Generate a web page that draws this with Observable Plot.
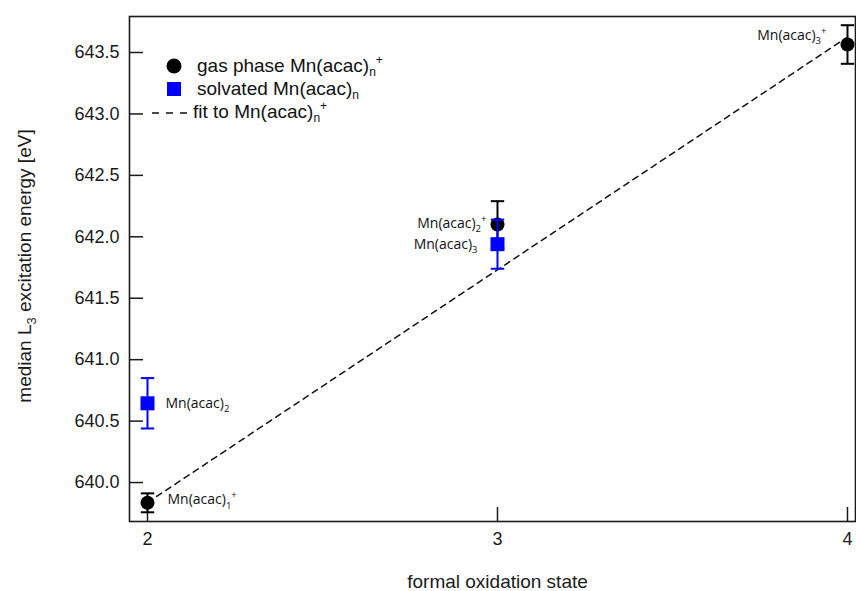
<!DOCTYPE html>
<html>
<head>
<meta charset="utf-8">
<script src="https://cdn.jsdelivr.net/npm/d3@7"></script>
<script src="https://cdn.jsdelivr.net/npm/@observablehq/plot@0.6"></script>
<style>
  html, body { margin: 0; padding: 0; background: white; }
  #wrap { position: relative; width: 856px; height: 591px; }
  #legend { position: absolute; left: 0; top: 0; width: 0; height: 0;
            font-family: "Liberation Sans", Arial, sans-serif; font-size: 19px; color: #111; }
  #legend .lbl { position: absolute; white-space: nowrap; line-height: 22px; }
  #legend sub { font-size: 12px; vertical-align: -4px; line-height: 0; }
  #legend sup { font-size: 12px; vertical-align: 8px; line-height: 0; }
  #legend svg { position: absolute; overflow: visible; }
</style>
</head>
<body>
<div id="wrap"><div id="legend"></div></div>
<script>
// ---------------- data ----------------
const gasStates   = [2, 3, 4];
const gasEnergy   = [639.835, 642.10, 643.565];
const gasError    = [0.077, 0.19, 0.157];

const solvStates  = [2, 3];
const solvEnergy  = [640.645, 641.94];
const solvError   = [0.205, 0.20];

const fitStates   = [2, 4];
const fitEnergy   = [639.837, 643.626];

const xTicks = [2, 3, 4];
const yTicks = [640.0, 640.5, 641.0, 641.5, 642.0, 642.5, 643.0, 643.5];

const labelTexts    = ["Mn(acac)_1^+", "Mn(acac)_2", "Mn(acac)_2^+", "Mn(acac)_3", "Mn(acac)_3^+"];
const labelStates   = [2, 2, 3, 3, 4];
const labelEnergies = [639.835, 640.645, 642.10, 641.94, 643.565];

const legendTexts = ["gas phase Mn(acac)<sub>n</sub><sup>+</sup>", "solvated Mn(acac)<sub>n</sub>", "fit to Mn(acac)<sub>n</sub><sup>+</sup>"];
const xLabel = "formal oxidation state";
const yLabel = "median L_3 excitation energy [eV]";

// ---------------- layout / style ----------------
const W = 856, H = 591;
const mL = 129, mR = 1, mT = 16, mB = 70;
const innerW = W - mL - mR, innerH = H - mT - mB;
const labelLayout = [
  {anchor: "start", dx: 20, dy: -3},
  {anchor: "start", dx: 18, dy: 0},
  {anchor: "end",   dx: -11, dy: -1},
  {anchor: "end",   dx: -20, dy: 0},
  {anchor: "end",   dx: -21, dy: -9}
];
const BLUE = "#0000ff";
const AX = "#1a1a1a";

const gas  = gasStates.map((s, i) => ({s, e: gasEnergy[i], err: gasError[i]}));
const solv = solvStates.map((s, i) => ({s, e: solvEnergy[i], err: solvError[i]}));
const fit  = fitStates.map((s, i) => ({s, e: fitEnergy[i]}));
const labels = labelTexts.map((t, i) => ({t, s: labelStates[i], e: labelEnergies[i]}));

const cap = {draw(ctx, size) { const r = Math.sqrt(size / Math.PI); ctx.moveTo(-r, 0); ctx.lineTo(r, 0); }};

function errorMarks(data, color) {
  return [
    Plot.ruleX(data, {x: "s", y1: d => d.e - d.err, y2: d => d.e + d.err, stroke: color, strokeWidth: 2}),
    Plot.dot(data, {x: "s", y: d => d.e + d.err, symbol: cap, r: 6.7, stroke: color, strokeWidth: 2}),
    Plot.dot(data, {x: "s", y: d => d.e - d.err, symbol: cap, r: 6.7, stroke: color, strokeWidth: 2})
  ];
}

const chart = Plot.plot({
  width: W, height: H,
  marginLeft: mL, marginRight: mR, marginTop: mT, marginBottom: mB,
  x: {domain: [1.9486, 4.0229]},
  y: {domain: [639.683, 643.793]},
  style: {fontFamily: "'Liberation Sans', Arial, sans-serif", fontSize: "18px", color: AX, background: "white"},
  marks: [
    Plot.tickY(yTicks, {y: d => d, insetRight: innerW - 14, stroke: AX, strokeWidth: 1.5}),
    Plot.tickX(xTicks, {x: d => d, insetTop: innerH - 14, stroke: AX, strokeWidth: 1.5}),
    Plot.axisY({ticks: yTicks, tickSize: 0, tickPadding: 10, tickFormat: d => d.toFixed(1), label: null, fontSize: 18}),
    Plot.axisX({ticks: xTicks, tickSize: 0, tickPadding: 11, tickFormat: d => String(d), label: null, fontSize: 18}),
    Plot.text([yLabel], {text: d => d, frameAnchor: "left", textAnchor: "middle", lineAnchor: "middle", rotate: -90, dx: -105, dy: -3, fontSize: 19, fill: AX}),
    Plot.text([xLabel], {text: d => d, frameAnchor: "bottom", textAnchor: "middle", lineAnchor: "middle", dx: 5, dy: 60, fontSize: 19, fill: AX}),
    Plot.line(fit, {x: "s", y: "e", stroke: "#111", strokeWidth: 1.5, strokeDasharray: "6,5"}),
    ...errorMarks(gas, "#000"),
    Plot.dot(gas, {x: "s", y: "e", r: 7, fill: "#000"}),
    ...errorMarks(solv, BLUE),
    Plot.dot(solv, {x: "s", y: "e", symbol: "square", r: 7.9, fill: BLUE}),
    ...labels.map((d, i) => Plot.text([d], {
      x: "s", y: "e", text: "t", textAnchor: labelLayout[i].anchor,
      dx: labelLayout[i].dx, dy: labelLayout[i].dy,
      fontFamily: "'Open Sans', 'Noto Sans', sans-serif", fontSize: 14, fill: "#111"
    })),
    Plot.frame({stroke: AX, strokeWidth: 1.6})
  ]
});

const wrap = document.getElementById("wrap");
wrap.insertBefore(chart, wrap.firstChild);

// rich text: _x subscript, ^x superscript
const NS = "http://www.w3.org/2000/svg";
function richify(el) {
  const s = el.textContent;
  if (!/[_^]/.test(s)) return;
  const fs = parseFloat(getComputedStyle(el).fontSize) || 13;
  const segs = []; let buf = "";
  for (let i = 0; i < s.length; i++) {
    const c = s[i];
    if ((c === "_" || c === "^") && i + 1 < s.length) {
      if (buf) { segs.push({t: buf, k: 0}); buf = ""; }
      segs.push({t: s[i + 1], k: c === "_" ? 1 : -1});
      i++;
    } else buf += c;
  }
  if (buf) segs.push({t: buf, k: 0});
  el.textContent = "";
  let cur = 0;
  for (const sg of segs) {
    const ts = document.createElementNS(NS, "tspan");
    const off = sg.k === 1 ? 0.3 * fs : sg.k === -1 ? -0.42 * fs : 0;
    if (off - cur !== 0) ts.setAttribute("dy", (off - cur).toFixed(2));
    cur = off;
    if (sg.k) ts.setAttribute("font-size", (0.68 * fs).toFixed(1));
    ts.textContent = sg.t;
    el.appendChild(ts);
  }
}
chart.querySelectorAll("text").forEach(richify);

// legend overlay
const legend = document.getElementById("legend");
function addSvg(left, top, w, h, inner) {
  const el = document.createElementNS(NS, "svg");
  el.setAttribute("width", w); el.setAttribute("height", h);
  el.style.left = left + "px"; el.style.top = top + "px";
  el.innerHTML = inner;
  legend.appendChild(el);
}
function addLabel(left, cy, html) {
  const d = document.createElement("div");
  d.className = "lbl";
  d.style.left = left + "px"; d.style.top = (cy - 11) + "px";
  d.innerHTML = html;
  legend.appendChild(d);
}
addSvg(166, 58, 16, 16, '<circle cx="8" cy="8" r="7.5" fill="#000"/>');
addLabel(197, 66, legendTexts[0]);
addSvg(167, 82, 14, 14, '<rect x="0" y="0" width="14" height="14" fill="' + BLUE + '"/>');
addLabel(197, 89, legendTexts[1]);
addSvg(152, 110, 40, 6, '<line x1="0" y1="3" x2="36" y2="3" stroke="#111" stroke-width="1.5" stroke-dasharray="7,7"/>');
addLabel(193, 112, legendTexts[2]);
</script>
</body>
</html>
